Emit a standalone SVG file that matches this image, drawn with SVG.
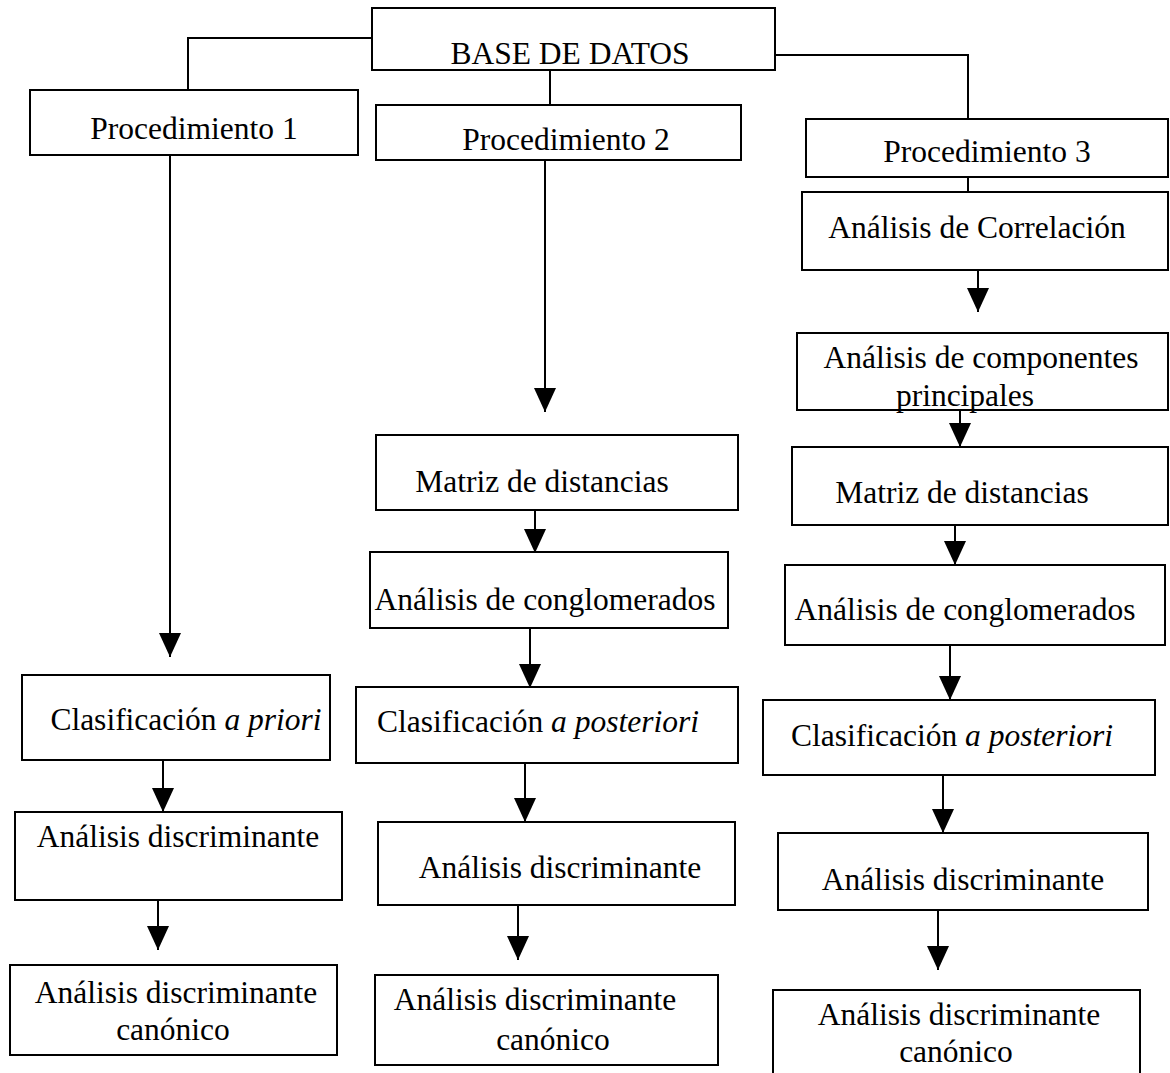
<svg xmlns="http://www.w3.org/2000/svg" width="1170" height="1073" viewBox="0 0 1170 1073">
<defs>
<marker id="ah" markerWidth="24" markerHeight="22" refX="24" refY="11" orient="auto" markerUnits="userSpaceOnUse" viewBox="0 0 24 22">
<path d="M0,0 L24,11 L0,22 Z" fill="#000"/>
</marker>
<style>
rect{fill:#fff;stroke:#000;stroke-width:2}
text{font-family:"Liberation Serif","Times New Roman",serif;font-size:31.5px;fill:#000;text-anchor:middle}
.c line,.c path{stroke:#000;stroke-width:2;fill:none}
.a{marker-end:url(#ah)}
</style>
</defs>
<rect x="0" y="0" width="1170" height="1073" style="fill:#fff;stroke:none"/>
<g class="c" id="connectors">
<path d="M372,38 H188 V90"/>
<path d="M775,55 H968 V119"/>
<line x1="550" y1="70" x2="550" y2="105"/>
<line x1="968" y1="177" x2="968" y2="192"/>
<line class="a" x1="170" y1="155" x2="170" y2="657"/>
<line class="a" x1="163" y1="760" x2="163" y2="812"/>
<line class="a" x1="158" y1="900" x2="158" y2="950"/>
<line class="a" x1="545" y1="160" x2="545" y2="412"/>
<line class="a" x1="535" y1="510" x2="535" y2="553"/>
<line class="a" x1="530" y1="628" x2="530" y2="688"/>
<line class="a" x1="525" y1="763" x2="525" y2="822"/>
<line class="a" x1="518" y1="905" x2="518" y2="960"/>
<line class="a" x1="978" y1="270" x2="978" y2="312"/>
<line class="a" x1="960" y1="410" x2="960" y2="447"/>
<line class="a" x1="955" y1="525" x2="955" y2="565"/>
<line class="a" x1="950" y1="645" x2="950" y2="700"/>
<line class="a" x1="943" y1="775" x2="943" y2="833"/>
<line class="a" x1="938" y1="910" x2="938" y2="970"/>
</g>
<g id="base"><rect x="372" y="8" width="403" height="62"/><text x="570" y="64">BASE DE DATOS</text></g>
<g id="proc1"><rect x="30" y="90" width="328" height="65"/><text x="194" y="139">Procedimiento 1</text></g>
<g id="proc2"><rect x="376" y="105" width="365" height="55"/><text x="566" y="150">Procedimiento 2</text></g>
<g id="proc3"><rect x="806" y="119" width="362" height="58"/><text x="987" y="162">Procedimiento 3</text></g>
<g id="corr"><rect x="802" y="192" width="366" height="78"/><text x="977" y="238">Análisis de Correlación</text></g>
<g id="acp"><rect x="797" y="333" width="371" height="77"/><text x="981" y="368">Análisis de componentes</text><text x="965" y="406">principales</text></g>
<g id="mat3"><rect x="792" y="447" width="376" height="78"/><text x="962" y="503">Matriz de distancias</text></g>
<g id="cong3"><rect x="785" y="565" width="380" height="80"/><text x="965" y="620">Análisis de conglomerados</text></g>
<g id="clas3"><rect x="763" y="700" width="392" height="75"/><text x="952" y="746">Clasificación <tspan font-style="italic">a posteriori</tspan></text></g>
<g id="disc3"><rect x="778" y="833" width="370" height="77"/><text x="963" y="890">Análisis discriminante</text></g>
<g id="can3"><rect x="773" y="990" width="367" height="90"/><text x="959" y="1025">Análisis discriminante</text><text x="956" y="1062">canónico</text></g>
<g id="mat2"><rect x="376" y="435" width="362" height="75"/><text x="542" y="492">Matriz de distancias</text></g>
<g id="cong2"><rect x="370" y="552" width="358" height="76"/><text x="545" y="610">Análisis de conglomerados</text></g>
<g id="clas2"><rect x="356" y="687" width="382" height="76"/><text x="538" y="732">Clasificación <tspan font-style="italic">a posteriori</tspan></text></g>
<g id="disc2"><rect x="378" y="822" width="357" height="83"/><text x="560" y="878">Análisis discriminante</text></g>
<g id="can2"><rect x="375" y="975" width="343" height="90"/><text x="535" y="1010">Análisis discriminante</text><text x="553" y="1050">canónico</text></g>
<g id="clas1"><rect x="22" y="675" width="308" height="85"/><text x="186" y="730">Clasificación <tspan font-style="italic">a priori</tspan></text></g>
<g id="disc1"><rect x="15" y="812" width="327" height="88"/><text x="178" y="847">Análisis discriminante</text></g>
<g id="can1"><rect x="10" y="965" width="327" height="90"/><text x="176" y="1003">Análisis discriminante</text><text x="173" y="1040">canónico</text></g>
</svg>
